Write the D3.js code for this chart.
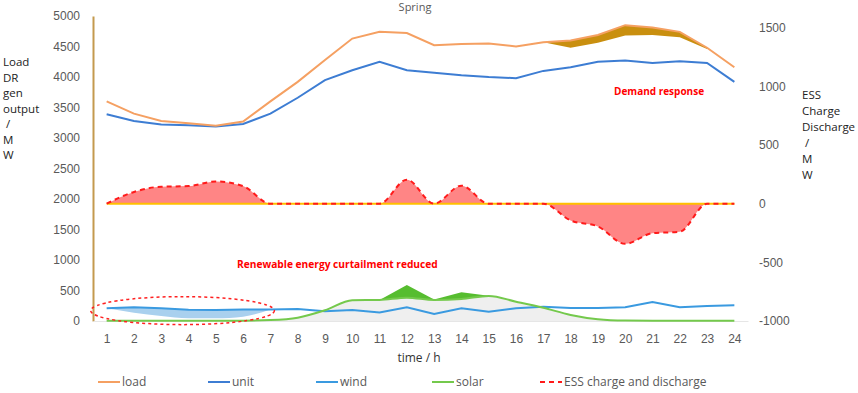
<!DOCTYPE html>
<html>
<head>
<meta charset="utf-8">
<script src="https://cdn.jsdelivr.net/npm/d3@7"></script>
<style>
  body { margin: 0; background: #fff; }
  svg { font-family: "Open Sans", "Liberation Sans", sans-serif; }
</style>
</head>
<body>
<script>
var hours = d3.range(1, 25);
var load = [3600, 3400, 3280, 3240, 3200, 3270, 3600, 3920, 4280, 4630, 4740, 4720, 4520, 4540, 4550, 4500, 4570, 4600, 4690, 4850, 4810, 4740, 4480, 4160];
var loadDR = [3600, 3400, 3280, 3240, 3200, 3270, 3600, 3920, 4280, 4630, 4740, 4720, 4520, 4540, 4550, 4500, 4570, 4480, 4560, 4680, 4690, 4650, 4460, 4160];
var unit = [3390, 3280, 3220, 3210, 3190, 3230, 3400, 3660, 3950, 4110, 4250, 4110, 4070, 4030, 4000, 3980, 4100, 4160, 4250, 4270, 4230, 4260, 4230, 3920];
var wind = [208, 224, 208, 185, 180, 190, 190, 195, 160, 180, 140, 224, 115, 208, 153, 208, 235, 213, 213, 224, 311, 224, 246, 257];
var windBase = [208, 137, 82, 44, 44, 71, 190, 195, 160, 180, 140, 224, 115, 208, 153, 208, 235, 213, 213, 224, 311, 224, 246, 257];
var solar = [5, 5, 5, 5, 5, 5, 15, 55, 175, 340, 345, 382, 344, 360, 410, 317, 218, 100, 30, 8, 5, 5, 5, 5];
var solarTop = [5, 5, 5, 5, 5, 5, 15, 55, 175, 340, 345, 590, 352, 470, 415, 317, 218, 100, 30, 8, 5, 5, 5, 5];
var ess = [0, 100, 145, 150, 190, 150, 0, 0, 0, 0, 0, 205, 0, 154, 0, 0, 0, -143, -194, -342, -251, -239, 0, 0];
var leftTicks = [0, 500, 1000, 1500, 2000, 2500, 3000, 3500, 4000, 4500, 5000];
var rightTicks = [-1000, -500, 0, 500, 1000, 1500];
var legendNames = ["load", "unit", "wind", "solar", "ESS charge and discharge"];

function init() {
  var W = 858, H = 393;
  var mTop = 16, mBottom = 321, mLeft = 93, mRight = 748;
  var plain = function(d) { return String(d); };

  var svg = d3.select("body").append("svg").attr("width", W).attr("height", H);

  var x = d3.scalePoint().domain(hours).range([mLeft, mRight]).padding(0.5);
  var y = d3.scaleLinear().domain([0, 5000]).range([mBottom, mTop]);
  var y2 = d3.scaleLinear().domain([-1000, 1600]).range([mBottom, mTop]);

  // axes
  var yAxis = d3.axisLeft(y).tickValues(leftTicks).tickFormat(plain).tickSize(0).tickPadding(13);
  var gy = svg.append("g").attr("transform", "translate(" + mLeft + ",0)").call(yAxis);
  gy.select(".domain").attr("stroke", "#c49a4e").attr("stroke-width", 2);
  gy.selectAll("text").attr("fill", "#595959").attr("font-size", "12px");

  var y2Axis = d3.axisRight(y2).tickValues(rightTicks).tickFormat(plain).tickSize(0).tickPadding(11);
  var gy2 = svg.append("g").attr("transform", "translate(" + mRight + ",0)").call(y2Axis);
  gy2.select(".domain").remove();
  gy2.selectAll("text").attr("fill", "#595959").attr("font-size", "12px");

  var xAxis = d3.axisBottom(x).tickSize(0).tickPadding(13);
  var gx = svg.append("g").attr("transform", "translate(0," + mBottom + ")").call(xAxis);
  gx.select(".domain").attr("stroke", "#e6e6e6");
  gx.selectAll("text").attr("fill", "#595959").attr("font-size", "12px");

  // gray area under solar
  svg.append("path")
    .datum(hours)
    .attr("fill", "#efefef")
    .attr("d", d3.area().x(function(d) { return x(d); }).y0(y(0)).y1(function(d, i) { return y(solar[i]); }).curve(d3.curveMonotoneX));

  // wind curtailment reduced
  svg.append("path")
    .datum(hours.slice(0, 7))
    .attr("fill", "#a9d0ee")
    .attr("d", d3.area().x(function(d) { return x(d); })
      .y0(function(d, i) { return y(windBase[i]); })
      .y1(function(d, i) { return y(wind[i]); }).curve(d3.curveMonotoneX));

  // solar curtailment reduced
  svg.append("path")
    .datum(hours.slice(10, 15))
    .attr("fill", "#56bd2f")
    .attr("d", d3.area().x(function(d) { return x(d); })
      .y0(function(d) { return y(solar[d - 1]); })
      .y1(function(d) { return y(solarTop[d - 1]); }));

  // wind line
  svg.append("path")
    .datum(hours)
    .attr("fill", "none").attr("stroke", "#3a9ae0").attr("stroke-width", 2)
    .attr("d", d3.line().x(function(d) { return x(d); }).y(function(d, i) { return y(wind[i]); }));

  // solar line
  svg.append("path")
    .datum(hours)
    .attr("fill", "none").attr("stroke", "#74c94c").attr("stroke-width", 2)
    .attr("d", d3.line().x(function(d) { return x(d); }).y(function(d, i) { return y(solar[i]); }).curve(d3.curveMonotoneX));

  // ESS area
  svg.append("path")
    .datum(hours)
    .attr("fill", "#ff8585")
    .attr("d", d3.area().x(function(d) { return x(d); }).y0(y2(0)).y1(function(d, i) { return y2(ess[i]); }).curve(d3.curveMonotoneX));

  svg.append("line")
    .attr("x1", x(1)).attr("x2", x(24)).attr("y1", y2(0)).attr("y2", y2(0))
    .attr("stroke", "#ffc000").attr("stroke-width", 2);

  svg.append("path")
    .datum(hours)
    .attr("fill", "none").attr("stroke", "#ff1a1a").attr("stroke-width", 2).attr("stroke-dasharray", "5,4")
    .attr("d", d3.line().x(function(d) { return x(d); }).y(function(d, i) { return y2(ess[i]); }).curve(d3.curveMonotoneX));

  // demand response area
  svg.append("path")
    .datum(hours.slice(16, 23))
    .attr("fill", "#c98f0f")
    .attr("d", d3.area().x(function(d) { return x(d); })
      .y0(function(d) { return y(loadDR[d - 1]); })
      .y1(function(d) { return y(load[d - 1]); }));

  // unit line
  svg.append("path")
    .datum(hours)
    .attr("fill", "none").attr("stroke", "#3d7dd3").attr("stroke-width", 2)
    .attr("d", d3.line().x(function(d) { return x(d); }).y(function(d, i) { return y(unit[i]); }));

  // load line
  svg.append("path")
    .datum(hours)
    .attr("fill", "none").attr("stroke", "#f5a062").attr("stroke-width", 2)
    .attr("d", d3.line().x(function(d) { return x(d); }).y(function(d, i) { return y(load[i]); }));

  // curtailment ellipse
  svg.append("ellipse")
    .attr("cx", (x(1) + x(7)) / 2 - 6).attr("cy", y(170))
    .attr("rx", (x(7) - x(1)) / 2 + 10).attr("ry", 14)
    .attr("fill", "none").attr("stroke", "#ff2020").attr("stroke-width", 1.5).attr("stroke-dasharray", "3,3");

  // annotations
  svg.append("text").attr("x", 614).attr("y", 95).text("Demand response")
    .attr("fill", "#ff0000").attr("font-size", "10px").attr("font-weight", "bold");
  svg.append("text").attr("x", 237).attr("y", 268).text("Renewable energy curtailment reduced")
    .attr("fill", "#ff0000").attr("font-size", "10.2px").attr("font-weight", "bold");

  // titles
  svg.append("text").attr("x", 415).attr("y", 11).attr("text-anchor", "middle").text("Spring")
    .attr("fill", "#595959").attr("font-size", "11px");
  svg.append("text").attr("x", 419).attr("y", 362).attr("text-anchor", "middle").text("time / h")
    .attr("fill", "#333").attr("font-size", "12px");

  var leftTitle = ["Load", "DR", "gen", "output", " /", "M", "W"];
  svg.append("g").selectAll("text").data(leftTitle).enter().append("text")
    .attr("x", 3).attr("y", function(d, i) { return 66 + i * 15.5; })
    .text(function(d) { return d; })
    .attr("fill", "#222").attr("font-size", "11.5px").attr("xml:space", "preserve");

  var rightTitle = ["ESS", "Charge", "Discharge", " /", "M", "W"];
  svg.append("g").selectAll("text").data(rightTitle).enter().append("text")
    .attr("x", 802).attr("y", function(d, i) { return 99 + i * 16; })
    .text(function(d) { return d; })
    .attr("fill", "#222").attr("font-size", "11.5px").attr("xml:space", "preserve");

  // legend
  var legendColors = ["#f5a062", "#3d7dd3", "#3a9ae0", "#74c94c", "#ff1a1a"];
  var legendX = [98, 208, 316, 432, 540];
  var lg = svg.append("g").selectAll("g").data(legendNames).enter().append("g")
    .attr("transform", function(d, i) { return "translate(" + legendX[i] + ",382)"; });
  lg.append("line").attr("x1", 0).attr("x2", 22).attr("y1", 0).attr("y2", 0)
    .attr("stroke", function(d, i) { return legendColors[i]; }).attr("stroke-width", 2)
    .attr("stroke-dasharray", function(d, i) { return i === 4 ? "5,4" : null; });
  lg.append("text").attr("x", 24).attr("y", 4).text(function(d) { return d; })
    .attr("fill", "#595959").attr("font-size", "12px");
}
init();
</script>
</body>
</html>
